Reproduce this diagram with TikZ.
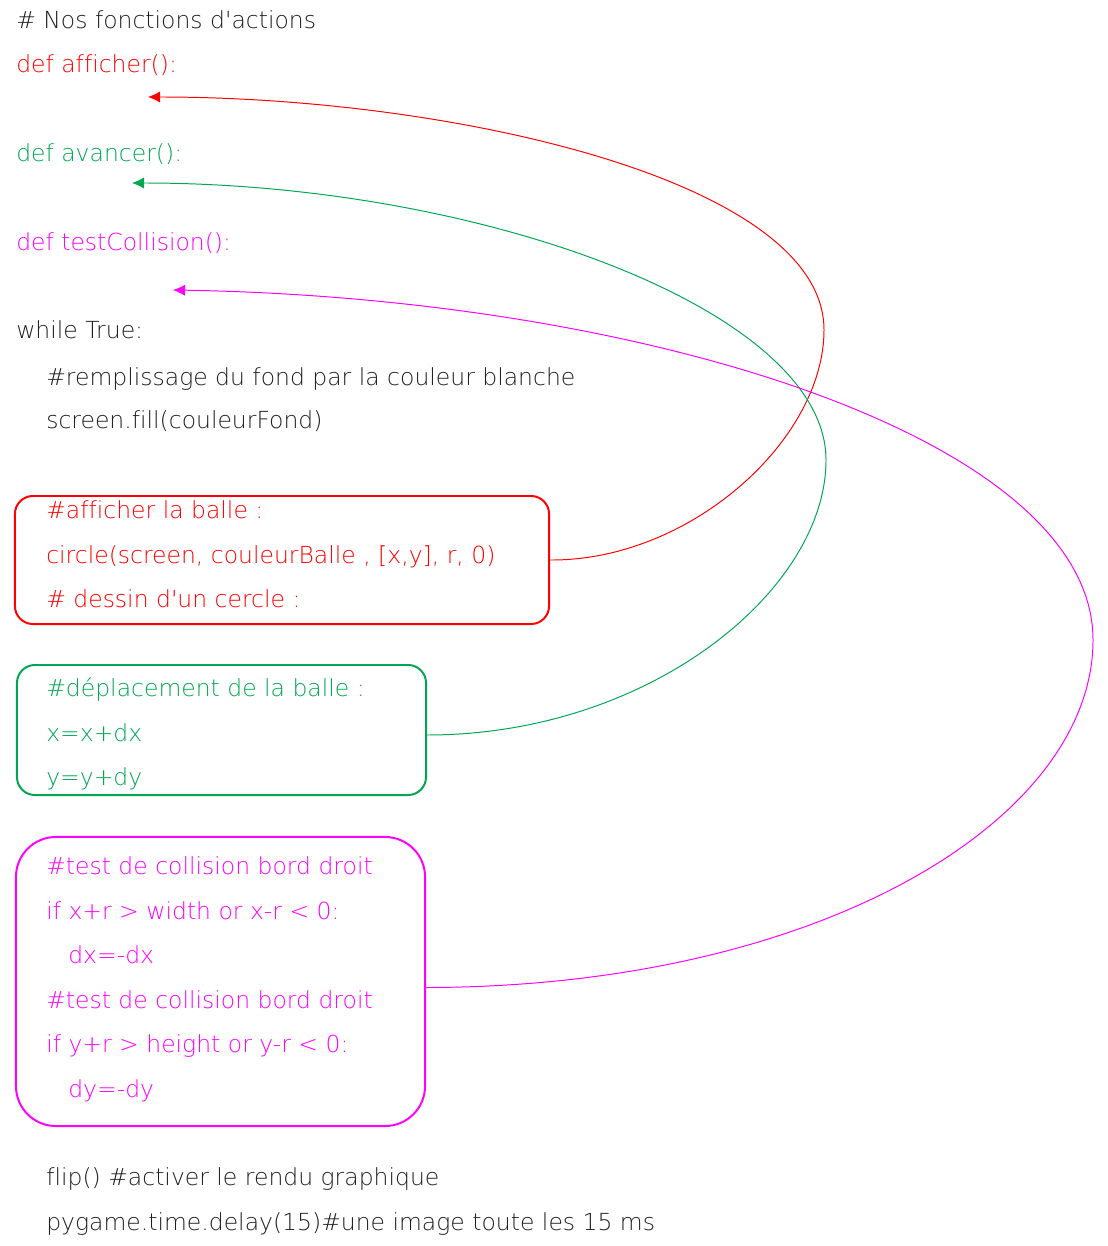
\documentclass[tikz,border=0pt]{standalone}
\usepackage{fontspec}
\newfontfamily\codefont{DejaVu Sans ExtraLight}[Ligatures={NoCommon}]
\usepackage{tikz}
\usetikzlibrary{positioning,arrows.meta}
\definecolor{codered}{RGB}{255,0,0}
\definecolor{codegreen}{RGB}{0,166,81}
\definecolor{codemagenta}{RGB}{255,0,255}
\definecolor{codetext}{RGB}{30,30,30}

\begin{document}
\begin{tikzpicture}[x=0.025cm, y=-0.025cm,
  every node/.style={font=\codefont\fontsize{16.7}{19}\selectfont},
  codeline/.style={anchor=base west, inner sep=0pt, text=codetext},
  codebox/.style={draw, line width=1.4pt, rounded corners=0.45cm},
  link/.style={line width=0.7pt, -{Latex[length=0.3cm,width=0.28cm]}}
]
  \useasboundingbox (0,0) rectangle (1108,1246);

  % --- Function headers ---
  \node[codeline] (title) at (16,29) {\# Nos fonctions d'actions};
  \node[codeline, text=codered]     (fafficher) at (16,73)  {def afficher():};
  \node[codeline, text=codegreen]   (favancer)  at (16,162) {def avancer():};
  \node[codeline, text=codemagenta] (ftest)     at (16,251) {def testCollision():};

  % --- Arrow targets ---
  \coordinate (tafficher) at (148,97);
  \coordinate (tavancer)  at (132,183);
  \coordinate (ttest)     at (173,290);

  % --- Main loop ---
  \node[codeline] (loop) at (16,339) {while True:};
  \node[codeline] (fond1) at (46,385) {\#remplissage du fond par la couleur blanche};
  \node[codeline] (fond2) at (46,428) {screen.fill(couleurFond)};

  % --- Boxes ---
  \node[codebox, draw=codered, minimum width=13.35cm, minimum height=3.2cm] (rbox) at (282,560) {};
  \node[codebox, draw=codegreen, minimum width=10.225cm, minimum height=3.25cm] (gbox) at (221.5,730) {};
  \node[codebox, draw=codemagenta, rounded corners=1cm,
        minimum width=10.225cm, minimum height=7.225cm] (mbox) at (220.5,981.5) {};

  % --- Red block ---
  \node[codeline, text=codered] (r1) at (46,518) {\#afficher la balle :};
  \node[codeline, text=codered] (r2) at (46,563) {circle(screen, couleurBalle , [x,y], r, 0)};
  \node[codeline, text=codered] (r3) at (46,607) {\# dessin d'un cercle :};

  % --- Green block ---
  \node[codeline, text=codegreen] (g1) at (46,696) {\#déplacement de la balle :};
  \node[codeline, text=codegreen] (g2) at (46,741) {x=x+dx};
  \node[codeline, text=codegreen] (g3) at (46,785) {y=y+dy};

  % --- Magenta block ---
  \node[codeline, text=codemagenta] (m1) at (46,874)  {\#test de collision bord droit};
  \node[codeline, text=codemagenta] (m2) at (46,919)  {if x+r > width or x-r < 0:};
  \node[codeline, text=codemagenta] (m3) at (68,963)  {dx=-dx};
  \node[codeline, text=codemagenta] (m4) at (46,1008) {\#test de collision bord droit};
  \node[codeline, text=codemagenta] (m5) at (46,1052) {if y+r > height or y-r < 0:};
  \node[codeline, text=codemagenta] (m6) at (68,1097) {dy=-dy};

  % --- End of loop ---
  \node[codeline] (flip)  at (46,1185) {flip() \#activer le rendu graphique};
  \node[codeline] (delay) at (46,1230) {pygame.time.delay(15)\#une image toute les 15 ms};

  % --- Links ---
  \draw[link, codered] (rbox.east) .. controls (690,561) and (824,440) .. (824,330)
    .. controls (824,180) and (450,97) .. (tafficher);
  \draw[link, codegreen] ([yshift=-0.125cm]gbox.east) .. controls (650,735) and (826,590) .. (826,460)
    .. controls (826,310) and (480,183) .. (tavancer);
  \draw[link, codemagenta] ([yshift=-0.15cm]mbox.east) .. controls (820,987) and (1093,820) .. (1093,640)
    .. controls (1093,440) and (650,298) .. (ttest);

\end{tikzpicture}
\end{document}
